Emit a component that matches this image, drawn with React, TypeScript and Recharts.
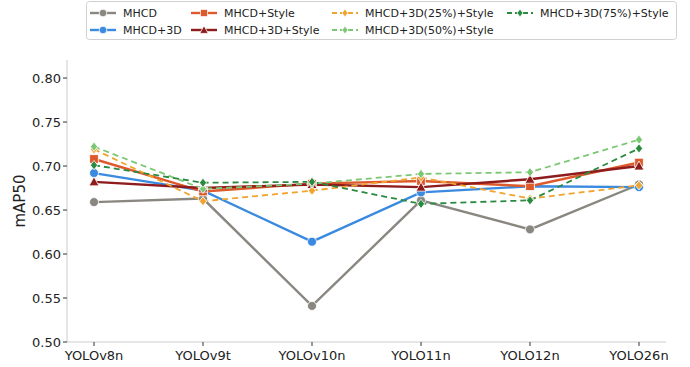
import { LineChart, Line, XAxis, YAxis, Legend } from "recharts"

const models = ["YOLOv8n", "YOLOv9t", "YOLOv10n", "YOLO11n", "YOLO12n", "YOLO26n"]

const mhcd = [0.659, 0.663, 0.541, 0.661, 0.628, 0.679]
const mhcd3d = [0.692, 0.672, 0.614, 0.670, 0.677, 0.676]
const mhcdStyle = [0.708, 0.671, 0.680, 0.683, 0.677, 0.704]
const mhcd3dStyle = [0.682, 0.675, 0.679, 0.676, 0.685, 0.700]
const mhcd3d25 = [0.719, 0.660, 0.672, 0.687, 0.663, 0.678]
const mhcd3d50 = [0.722, 0.674, 0.680, 0.691, 0.693, 0.730]
const mhcd3d75 = [0.701, 0.681, 0.682, 0.657, 0.661, 0.720]

const yTicks = [0.5, 0.55, 0.6, 0.65, 0.7, 0.75, 0.8]

type Shape = "circle" | "square" | "triangle" | "diamond"

const series: { key: string; name: string; values: number[]; color: string; shape: Shape; dashed: boolean }[] = [
  { key: "mhcd", name: "MHCD", values: mhcd, color: "#8a8781", shape: "circle", dashed: false },
  { key: "mhcd3d", name: "MHCD+3D", values: mhcd3d, color: "#3a8ae0", shape: "circle", dashed: false },
  { key: "mhcdStyle", name: "MHCD+Style", values: mhcdStyle, color: "#de5a2c", shape: "square", dashed: false },
  { key: "mhcd3dStyle", name: "MHCD+3D+Style", values: mhcd3dStyle, color: "#8e1c1c", shape: "triangle", dashed: false },
  { key: "mhcd3d25", name: "MHCD+3D(25%)+Style", values: mhcd3d25, color: "#f0a42c", shape: "diamond", dashed: true },
  { key: "mhcd3d50", name: "MHCD+3D(50%)+Style", values: mhcd3d50, color: "#7cc774", shape: "diamond", dashed: true },
  { key: "mhcd3d75", name: "MHCD+3D(75%)+Style", values: mhcd3d75, color: "#2a8a40", shape: "diamond", dashed: true },
]

const data = models.map((m, i) => {
  const row: Record<string, string | number> = { model: m }
  series.forEach((s) => {
    row[s.key] = s.values[i]
  })
  return row
})

const FONT = "'DejaVu Sans', sans-serif"

function Marker({ cx, cy, shape, color, small }: { cx: number; cy: number; shape: Shape; color: string; small?: boolean }) {
  const k = small ? 0.85 : 1
  if (shape === "circle") {
    return <circle cx={cx} cy={cy} r={4.5 * k} fill={color} stroke="#fff" strokeWidth={0.8} />
  }
  if (shape === "square") {
    const h = 4.3 * k
    return <rect x={cx - h} y={cy - h} width={2 * h} height={2 * h} fill={color} stroke="#fff" strokeWidth={0.8} />
  }
  if (shape === "triangle") {
    const h = 5 * k
    return (
      <polygon
        points={`${cx},${cy - h} ${cx + h},${cy + h * 0.8} ${cx - h},${cy + h * 0.8}`}
        fill={color}
        stroke="#fff"
        strokeWidth={0.8}
      />
    )
  }
  const w = 3.6 * k
  const h = 4.6 * k
  return (
    <polygon
      points={`${cx},${cy - h} ${cx + w},${cy} ${cx},${cy + h} ${cx - w},${cy}`}
      fill={color}
      stroke="#fff"
      strokeWidth={0.8}
    />
  )
}

function LegendBox() {
  // column-major like matplotlib, 4 columns x 2 rows
  const cols = [
    { x: 4, items: [series[0], series[1]] },
    { x: 105, items: [series[2], series[3]] },
    { x: 246, items: [series[4], series[5]] },
    { x: 421, items: [series[6]] },
  ]
  return (
    <svg width={592} height={42} style={{ display: "block" }}>
      <rect x={0.5} y={1.5} width={590} height={38} rx={3} fill="#fff" stroke="#d0d0d0" />
      {cols.map((c, ci) =>
        c.items.map((s, ri) => {
          const y = 13 + ri * 17
          return (
            <g key={`${ci}-${ri}`}>
              <line
                x1={c.x}
                x2={c.x + 26}
                y1={y}
                y2={y}
                stroke={s.color}
                strokeWidth={s.dashed ? 1.8 : 2.4}
                strokeDasharray={s.dashed ? "5 3" : undefined}
              />
              <Marker cx={c.x + 13} cy={y} shape={s.shape} color={s.color} small />
              <text x={c.x + 33} y={y + 4} fontSize={11} fontFamily={FONT} fill="#222">
                {s.name}
              </text>
            </g>
          )
        })
      )}
    </svg>
  )
}

export default function App() {
  return (
    <div style={{ position: "absolute", left: 0, top: 0, width: 690, height: 367, background: "#fff" }}>
      <LineChart width={690} height={367} data={data} margin={{ top: 60, right: 24, bottom: 0, left: 0 }}>
        <XAxis
          dataKey="model"
          height={25}
          padding={{ left: 27, right: 27 }}
          stroke="#cccccc"
          tickLine={{ stroke: "#333" }}
          tickSize={4}
          tick={{ fill: "#222", fontSize: 13, fontFamily: FONT, dy: 3 }}
          interval={0}
        />
        <YAxis
          width={67}
          domain={[0.5, 0.8205]}
          ticks={yTicks}
          allowDataOverflow
          stroke="#cccccc"
          tickLine={{ stroke: "#333" }}
          tickSize={4}
          tickFormatter={(v: number) => v.toFixed(2)}
          tick={{ fill: "#222", fontSize: 13, fontFamily: FONT }}
          label={{
            value: "mAP50",
            angle: -90,
            position: "insideLeft",
            offset: 20,
            style: { fill: "#222", fontSize: 15, fontFamily: FONT, textAnchor: "middle" },
          }}
        />
        <Legend
          layout="horizontal"
          verticalAlign="middle"
          align="center"
          wrapperStyle={{ top: 0, left: 86, width: 592, height: 42 }}
          content={() => <LegendBox />}
        />
        {series.map((s) => (
          <Line
            key={s.key}
            dataKey={s.key}
            name={s.name}
            stroke={s.color}
            strokeWidth={s.dashed ? 1.8 : 2.4}
            strokeDasharray={s.dashed ? "6 4" : undefined}
            type="linear"
            isAnimationActive={false}
            dot={(p: any) => <Marker key={`${s.key}-${p.index}`} cx={p.cx} cy={p.cy} shape={s.shape} color={s.color} />}
            activeDot={false}
          />
        ))}
      </LineChart>
    </div>
  )
}
